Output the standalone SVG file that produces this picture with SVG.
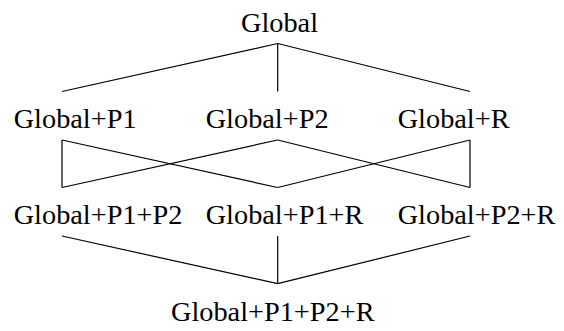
<svg xmlns="http://www.w3.org/2000/svg" width="564" height="331" viewBox="0 0 564 331">
<style>
.c line{stroke:#000;stroke-width:1.2;fill:none}
</style>
<rect width="564" height="331" fill="#fff"/>
<g class="c" id="connectors">
<line x1="277.7" y1="43.5" x2="62" y2="91.5"/>
<line x1="277.7" y1="43.5" x2="277.7" y2="91.5"/>
<line x1="277.7" y1="43.5" x2="470" y2="91.5"/>
<line x1="62" y1="140" x2="62" y2="187.5"/>
<line x1="62" y1="140" x2="277.7" y2="187.5"/>
<line x1="277.7" y1="140" x2="62" y2="187.5"/>
<line x1="277.7" y1="140" x2="470" y2="187.5"/>
<line x1="470" y1="140" x2="277.7" y2="187.5"/>
<line x1="470" y1="140" x2="470" y2="187.5"/>
<line x1="62" y1="236" x2="277.7" y2="283.7"/>
<line x1="277.7" y1="236" x2="277.7" y2="283.7"/>
<line x1="470" y1="236" x2="277.7" y2="283.7"/>
</g>
<g font-family="'Liberation Serif', 'DejaVu Serif', serif" font-size="28.3" fill="#000">
<g id="n-global"><text x="241" y="32">Global</text></g>
<g id="n-gp1"><text x="13.7" y="128">Global+P1</text></g>
<g id="n-gp2"><text x="205.7" y="128">Global+P2</text></g>
<g id="n-gr"><text x="397.7" y="128">Global+R</text></g>
<g id="n-gp1p2"><text x="13.7" y="224">Global+P1+P2</text></g>
<g id="n-gp1r"><text x="205.7" y="224">Global+P1+R</text></g>
<g id="n-gp2r"><text x="397.7" y="224">Global+P2+R</text></g>
<g id="n-all"><text x="171" y="320.5">Global+P1+P2+R</text></g>
</g>
</svg>
